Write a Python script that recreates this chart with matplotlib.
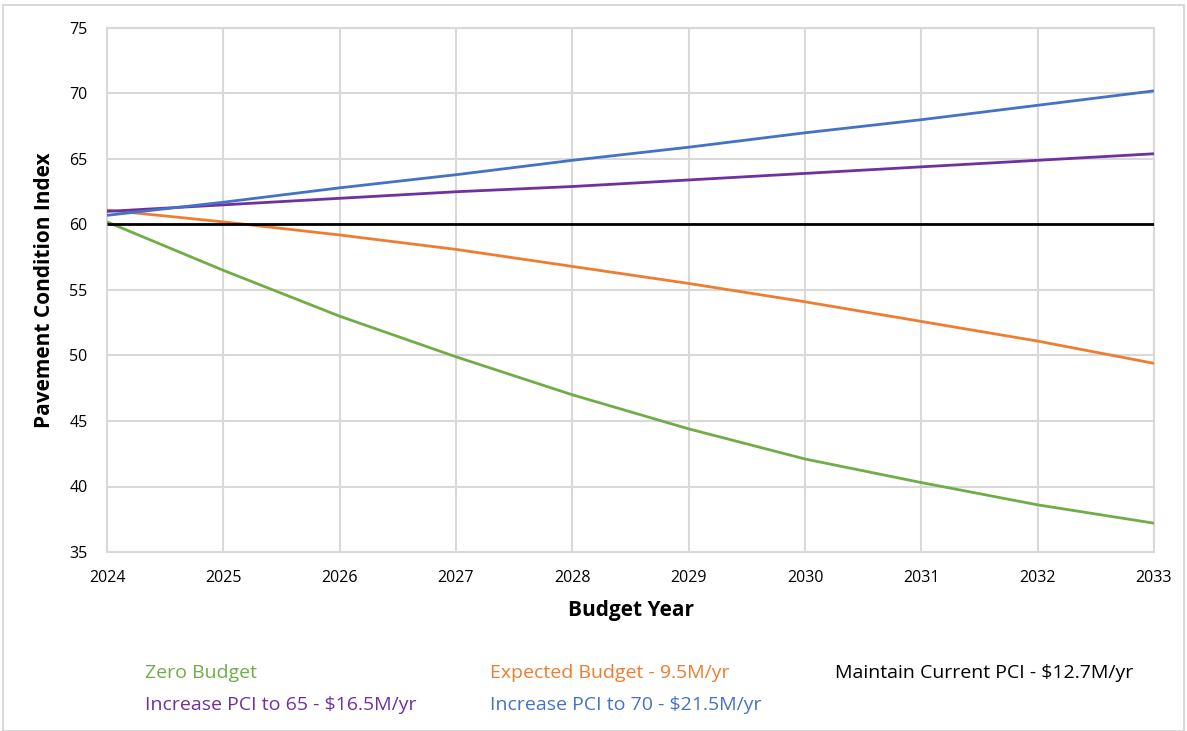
import matplotlib
matplotlib.use("Agg")
import matplotlib.pyplot as plt
from matplotlib.patches import Rectangle

years = [2024, 2025, 2026, 2027, 2028, 2029, 2030, 2031, 2032, 2033]
zero_budget = [60.2, 56.5, 53.0, 49.9, 47.0, 44.4, 42.1, 40.3, 38.6, 37.2]
expected_budget = [61.1, 60.2, 59.2, 58.1, 56.8, 55.5, 54.1, 52.6, 51.1, 49.4]
maintain_pci = [60, 60, 60, 60, 60, 60, 60, 60, 60, 60]
increase_65 = [61.0, 61.5, 62.0, 62.5, 62.9, 63.4, 63.9, 64.4, 64.9, 65.4]
increase_70 = [60.7, 61.7, 62.8, 63.8, 64.9, 65.9, 67.0, 68.0, 69.1, 70.2]

labels = ["Zero Budget", "Expected Budget - 9.5M/yr", "Maintain Current PCI - $12.7M/yr",
          "Increase PCI to 65 - $16.5M/yr", "Increase PCI to 70 - $21.5M/yr"]
colors = ["#70ad47", "#ed7d31", "#000000", "#7030a0", "#4472c4"]
series = [zero_budget, expected_budget, maintain_pci, increase_65, increase_70]
yticks = [35, 40, 45, 50, 55, 60, 65, 70, 75]

plt.rcParams['font.family'] = ['Open Sans', 'DejaVu Sans']

W, H = 1187, 731
fig = plt.figure(figsize=(W / 100, H / 100), dpi=100)
ax = fig.add_axes([107 / W, 1 - 552 / H, (1154 - 107) / W, (552 - 28) / H])

grid_c = "#d9d9d9"
for s, c in zip(series, colors):
    ax.plot(years, s, color=c, lw=2.0, solid_capstyle='butt', zorder=3)

ax.set_xlim(years[0], years[-1])
ax.set_ylim(35, 75)
ax.set_xticks(years)
ax.set_yticks(yticks)
ax.grid(True, color=grid_c, lw=1.5)
ax.set_axisbelow(True)
for sp in ax.spines.values():
    sp.set_color(grid_c)
    sp.set_linewidth(1.5)
ax.tick_params(length=0, labelsize=11.5, colors="#000000", pad=14)
ax.tick_params(axis='x', pad=13)
ax.set_xlabel("Budget Year", fontsize=15, fontweight='bold', labelpad=10)
ax.set_ylabel("Pavement Condition Index", fontsize=15, fontweight='bold', labelpad=10)

# outer border
fig.patches.append(Rectangle((3 / W, 0), (W - 6) / W, 1 - 5 / H, transform=fig.transFigure,
                             fill=False, edgecolor=grid_c, lw=1.5))

# legend as colored text
pos = [(145, 673), (490, 673), (835, 673), (145, 705), (490, 705)]
for (x, y), lab, c in zip(pos, labels, colors):
    fig.text(x / W, 1 - y / H, lab, color=c, fontsize=14, va='center', ha='left')

fig.savefig("out.png", dpi=100)
